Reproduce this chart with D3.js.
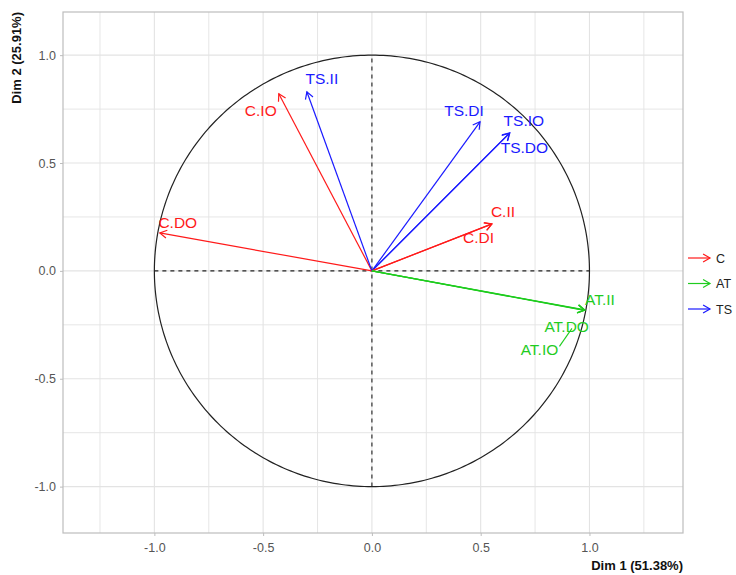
<!DOCTYPE html>
<html>
<head>
<meta charset="utf-8">
<script src="https://cdn.jsdelivr.net/npm/d3@7"></script>
<style>
  html, body { margin: 0; padding: 0; background: #fff; }
  svg { display: block; font-family: "Liberation Sans", Arial, sans-serif; }
</style>
</head>
<body>
<svg id="chart" width="736" height="575"></svg>
<script>
// Variable coordinates on the first two PCA dimensions
const variables = ["C.DO", "C.IO", "TS.II", "TS.DI", "TS.IO", "TS.DO", "C.II", "C.DI", "AT.II", "AT.DO", "AT.IO"];
const dim1 = [-0.975, -0.428, -0.299, 0.497, 0.634, 0.632, 0.552, 0.550, 0.979, 0.978, 0.977];
const dim2 = [0.176, 0.821, 0.830, 0.691, 0.640, 0.638, 0.218, 0.217, -0.181, -0.182, -0.183];
const groupOf = ["C", "C", "TS", "TS", "TS", "TS", "C", "C", "AT", "AT", "AT"];

const groups = ["C", "AT", "TS"];
const groupColors = ["#ff1a1a", "#1fcc1f", "#1a1aff"];

const axisTicks = [-1.0, -0.5, 0.0, 0.5, 1.0];
const minorTicks = [-1.25, -0.75, -0.25, 0.25, 0.75, 1.25];
const xTitle = "Dim 1 (51.38%)";
const yTitle = "Dim 2 (25.91%)";

// Repelled label offsets (pixels from the arrow tip)
const labelNudge = {
  "C.DO": [18, -10], "C.IO": [-18, 17], "TS.II": [15, -13], "TS.DI": [-16, -11],
  "TS.IO": [14, -12], "TS.DO": [15, 14], "C.II": [11, -12], "C.DI": [-13, 13],
  "AT.II": [15, -11], "AT.DO": [-18, 16], "AT.IO": [-45, 39]
};

const svg = d3.select("#chart");
const panel = { left: 63, right: 683, top: 12, bottom: 533 };

const x = d3.scaleLinear().domain([-1.42, 1.43]).range([panel.left, panel.right]);
const y = d3.scaleLinear().domain([-1.215, 1.2]).range([panel.bottom, panel.top]);
const color = d3.scaleOrdinal().domain(groups).range(groupColors);

// Grid
const grid = svg.append("g");
[...minorTicks, ...axisTicks].forEach(v => {
  grid.append("line").attr("x1", x(v)).attr("x2", x(v))
    .attr("y1", panel.top).attr("y2", panel.bottom)
    .attr("stroke", "#e3e3e3").attr("stroke-width", minorTicks.includes(v) ? 0.9 : 1.1);
  if (y(v) >= panel.top && y(v) <= panel.bottom)
    grid.append("line").attr("y1", y(v)).attr("y2", y(v))
      .attr("x1", panel.left).attr("x2", panel.right)
      .attr("stroke", "#e3e3e3").attr("stroke-width", minorTicks.includes(v) ? 0.9 : 1.1);
});

// Panel border
svg.append("rect").attr("x", panel.left).attr("y", panel.top)
  .attr("width", panel.right - panel.left).attr("height", panel.bottom - panel.top)
  .attr("fill", "none").attr("stroke", "#bdbdbd").attr("stroke-width", 1.2);

// Axes
const fmt = d => d.toFixed(1);
const xAxis = d3.axisBottom(x).tickValues(axisTicks).tickFormat(fmt).tickSize(3).tickPadding(5);
const yAxis = d3.axisLeft(y).tickValues(axisTicks).tickFormat(fmt).tickSize(3).tickPadding(4);
const gx = svg.append("g").attr("transform", `translate(0,${panel.bottom})`).call(xAxis);
const gy = svg.append("g").attr("transform", `translate(${panel.left},0)`).call(yAxis);
[gx, gy].forEach(g => {
  g.select(".domain").remove();
  g.selectAll(".tick line").attr("stroke", "#bdbdbd");
  g.selectAll(".tick text").attr("fill", "#555").style("font-size", "12.5px")
    .style("font-family", "'Liberation Sans', Arial, sans-serif");
});
gx.selectAll(".tick text").attr("dy", "0.9em");

svg.append("text").attr("x", panel.right).attr("y", 570)
  .attr("text-anchor", "end").attr("font-weight", "bold").attr("font-size", 13)
  .attr("fill", "#111").text(xTitle);
svg.append("text").attr("transform", `translate(21,${panel.top}) rotate(-90)`)
  .attr("text-anchor", "end").attr("font-weight", "bold").attr("font-size", 13)
  .attr("fill", "#111").text(yTitle);

// Correlation circle and reference lines
const circle = d3.range(0, 361).map(a => [Math.cos(a * Math.PI / 180), Math.sin(a * Math.PI / 180)]);
svg.append("path").datum(circle)
  .attr("d", d3.line().x(d => x(d[0])).y(d => y(d[1])))
  .attr("fill", "none").attr("stroke", "#222").attr("stroke-width", 1.2);
svg.append("line").attr("x1", x(-1)).attr("x2", x(1)).attr("y1", y(0)).attr("y2", y(0))
  .attr("stroke", "#222").attr("stroke-width", 1.1).attr("stroke-dasharray", "4,4");
svg.append("line").attr("x1", x(0)).attr("x2", x(0)).attr("y1", y(-1)).attr("y2", y(1))
  .attr("stroke", "#222").attr("stroke-width", 1.1).attr("stroke-dasharray", "4,4");

// Open arrowhead drawn as two short strokes at the tip
function arrow(g, x0, y0, x1, y1, col, len) {
  g.append("line").attr("x1", x0).attr("y1", y0).attr("x2", x1).attr("y2", y1)
    .attr("stroke", col).attr("stroke-width", 1.2);
  const ang = Math.atan2(y1 - y0, x1 - x0);
  const spread = Math.PI / 6;
  const p = [ang + Math.PI - spread, ang + Math.PI + spread]
    .map(a => [x1 + len * Math.cos(a), y1 + len * Math.sin(a)]);
  g.append("path").attr("d", `M${p[0][0]},${p[0][1]}L${x1},${y1}L${p[1][0]},${p[1][1]}`)
    .attr("fill", "none").attr("stroke", col).attr("stroke-width", 1.2);
}

const marks = svg.append("g");
variables.forEach((v, i) => {
  arrow(marks, x(0), y(0), x(dim1[i]), y(dim2[i]), color(groupOf[i]), 8);
});

// Labels
const labels = svg.append("g");
variables.forEach((v, i) => {
  const [dx, dy] = labelNudge[v];
  const px = x(dim1[i]), py = y(dim2[i]);
  const lx = px + dx, ly = py + dy;
  if (Math.hypot(dx, dy) > 40) {
    // leader segment from the label's upper-right corner back toward its point
    const sx = lx + 20, sy = ly - 3;
    labels.append("line")
      .attr("x1", sx).attr("y1", sy)
      .attr("x2", sx + (px - sx) * 0.5).attr("y2", sy + (py - sy) * 0.5)
      .attr("stroke", color(groupOf[i])).attr("stroke-width", 1.1);
  }
  labels.append("text").attr("x", lx).attr("y", ly).attr("dy", "0.36em")
    .attr("text-anchor", "middle").attr("font-size", 15.5)
    .attr("fill", color(groupOf[i])).text(v);
});

// Legend
const legend = svg.append("g");
groups.forEach((g, i) => {
  const ly = 258 + i * 25.5;
  arrow(legend, 688, ly, 710, ly, color(g), 8);
  legend.append("text").attr("x", 716).attr("y", ly).attr("dy", "0.36em")
    .attr("font-size", 12.5).attr("fill", "#222").text(g);
});
</script>
</body>
</html>
